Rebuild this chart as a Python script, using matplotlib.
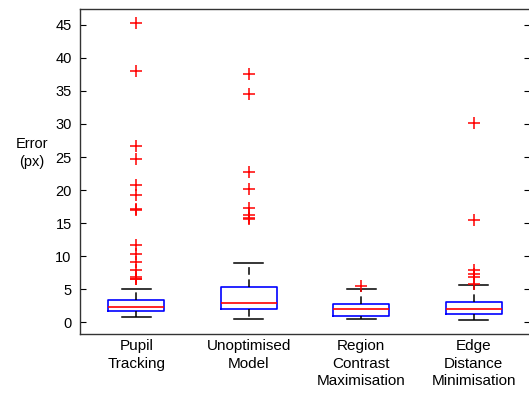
import matplotlib
matplotlib.use('Agg')
import matplotlib.pyplot as plt
import matplotlib.transforms as mtransforms

plt.rcParams['font.family'] = ['Liberation Sans', 'DejaVu Sans']

# box statistics
labels = ['Pupil\nTracking', 'Unoptimised\nModel', 'Region\nContrast\nMaximisation',
          'Edge\nDistance\nMinimisation']
medians = [2.3, 2.98, 2.07, 2.07]
q1 = [1.67, 2.07, 0.91, 1.3]
q3 = [3.33, 5.35, 2.7, 3.0]
whislo = [0.8, 0.56, 0.56, 0.3]
whishi = [5.05, 8.9, 5.1, 5.6]
fliers_pupil = [45.3, 38.0, 26.7, 24.7, 20.7, 19.2, 17.2, 17.0, 11.7, 10.4, 9.1, 7.9,
                6.8, 6.6, 6.5]
fliers_unopt = [37.6, 34.5, 22.7, 20.2, 17.3, 16.2, 15.8, 15.6]
fliers_region = [5.45]
fliers_edge = [30.2, 15.45, 7.9, 7.3, 6.8, 5.85]
fliers = [fliers_pupil, fliers_unopt, fliers_region, fliers_edge]

stats = []
for i in range(4):
    stats.append(dict(med=medians[i], q1=q1[i], q3=q3[i], whislo=whislo[i],
                      whishi=whishi[i], fliers=fliers[i]))

fig = plt.figure(figsize=(5.29, 3.96), dpi=100)
# right edge of the axes is cropped off in the original
ax = fig.add_axes([80 / 529, 1 - 333.5 / 396, 450 / 529, 324.5 / 396])

ax.bxp(stats, positions=[1, 2, 3, 4], widths=0.5, capwidths=0.26,
       boxprops=dict(color='blue', lw=1.2),
       medianprops=dict(color='red', lw=1.2),
       whiskerprops=dict(color='black', lw=1.1, linestyle=(0, (5, 3))),
       capprops=dict(color='black', lw=1.1),
       flierprops=dict(marker='+', markeredgecolor='red', markersize=8,
                       markeredgewidth=1.1, linestyle='none'))

ax.set_xlim(0.5, 4.5)
ax.set_ylim(-1.7, 47.4)
ax.set_yticks(range(0, 50, 5))
ax.set_xticks([])
ax.tick_params(axis='y', direction='in', length=4, labelsize=10.5, pad=6,
               right=True)
for s in ax.spines.values():
    s.set_linewidth(1)
    s.set_color('#333333')

trans = mtransforms.blended_transform_factory(ax.transData, fig.transFigure)
for i, lab in enumerate(labels):
    ax.text(i + 1, 1 - 339 / 396, lab, transform=trans, ha='center', va='top',
            fontsize=11, linespacing=1.33)

fig.text(32 / 529, 1 - 153 / 396, 'Error\n(px)', ha='center', va='center',
         fontsize=10.5, linespacing=1.3)

fig.savefig('out.png', dpi=100)
